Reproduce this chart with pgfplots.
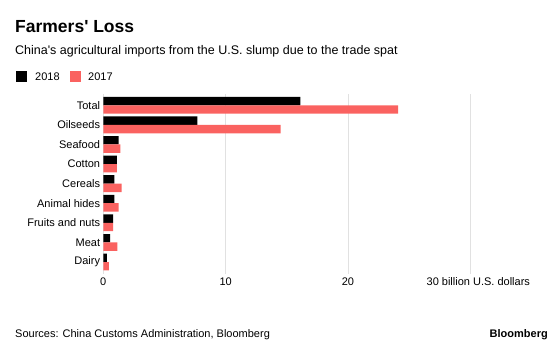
\documentclass[border=0pt]{standalone}
\usepackage{pgfplots}
\pgfplotsset{compat=1.18}
\usepackage{fontspec}
\setmainfont{Liberation Sans}[BoldFont={Liberation Sans Bold}]
\definecolor{bred}{RGB}{250,98,96}
\definecolor{gridc}{RGB}{225,225,225}
\begin{document}
\begin{tikzpicture}[x=1pt,y=1pt]
\path (0,0) rectangle (560,350);
\node[anchor=base west,inner sep=0pt,font=\fontsize{17.5}{20}\selectfont\bfseries] at (15,350-33) {Farmers\textquotesingle{} Loss};
\node[anchor=base west,inner sep=0pt,font=\fontsize{12.5}{15}\selectfont] at (15,350-55) {China\textquotesingle{}s agricultural imports from the U.S. slump due to the trade spat};
\fill[black] (16,350-82) rectangle (27,350-71);
\node[anchor=base west,inner sep=0pt,font=\fontsize{11}{13}\selectfont] at (35,350-81) {2018};
\fill[bred] (70,350-82) rectangle (81,350-71);
\node[anchor=base west,inner sep=0pt,font=\fontsize{11}{13}\selectfont] at (88,350-81) {2017};
\node[anchor=base west,inner sep=0pt,font=\fontsize{11}{13}\selectfont] at (15,350-338) {Sources: China Customs Administration, Bloomberg};
\node[anchor=base east,inner sep=0pt,font=\fontsize{11}{13}\selectfont\bfseries] at (548,350-338) {Bloomberg};
\begin{axis}[
  at={(103.3pt,76.2pt)}, anchor=south west,
  scale only axis, width=367pt, height=180.3pt,
  xmin=0, xmax=30, ymin=-0.6, ymax=8.6,
  axis line style={draw=none},
  xbar, bar width=8.4pt,
  xtick={0,10,20,30},
  xticklabels={0,10,20,\hspace*{16pt}30 billion U.S. dollars},
  ytick={0,...,8},
  yticklabels={Dairy,Meat,Fruits and nuts,Animal hides,Cereals,Cotton,Seafood,Oilseeds,Total},
  major tick length=0pt,
  xmajorgrids, grid style={gridc,line width=0.8pt},
  tick label style={font=\fontsize{11}{13}\selectfont},
  /pgf/number format/assume math mode=true,
  yticklabel style={xshift=-2pt},
  ytick style={draw=none},
  tick label style={inner sep=1pt},
  xticklabel style={yshift=-3pt},
]
\addplot[fill=black,draw=none,bar shift=4.2pt] coordinates {
(16.1,8) (7.7,7) (1.25,6) (1.1,5) (0.9,4) (0.9,3) (0.8,2) (0.55,1) (0.3,0)};
\addplot[fill=bred,draw=none,bar shift=-4.2pt] coordinates {
(24.1,8) (14.5,7) (1.4,6) (1.1,5) (1.5,4) (1.25,3) (0.8,2) (1.15,1) (0.45,0)};
\end{axis}
\end{tikzpicture}
\end{document}
